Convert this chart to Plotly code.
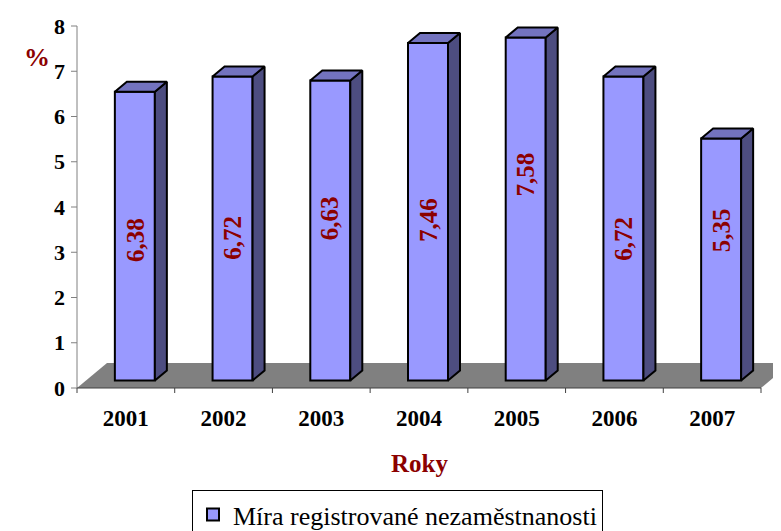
import plotly.graph_objects as go

# ---- data ----
years = ["2001", "2002", "2003", "2004", "2005", "2006", "2007"]
rates = [6.38, 6.72, 6.63, 7.46, 7.58, 6.72, 5.35]
y_ticks = [0, 1, 2, 3, 4, 5, 6, 7, 8]
series_name = "Míra registrované nezaměstnanosti"
x_title = "Roky"
y_title = "%"

# ---- style / geometry (screen-pixel-derived constants) ----
W, H = 781, 531
OFF = 8              # page body margin offset of the plot div
X_PPU = 684 / 7      # pixels per category
Y_PPU = 362 / 8      # pixels per y unit
PLOT_L, PLOT_R, PLOT_T, PLOT_B = 70, 789, 10, 402   # screen pixels
Y0_PX = 388

FLOOR_DX, FLOOR_DY = 30 / X_PPU, 25 / Y_PPU
BAR_OX, BAR_OY = 9 / X_PPU, 7.5 / Y_PPU
BAR_W = 40 / X_PPU
BAR_DX, BAR_DY = 12 / X_PPU, 10 / Y_PPU
label_y = [3.27, 3.31, 3.76, 3.71, 4.71, 3.31, 3.49]

FRONT, TOP, SIDE = "#9999FF", "#7373BF", "#4D4D80"
RED = "#8B0000"
FONT = "Liberation Serif"

x_lo = -0.5 - (77 - PLOT_L) / X_PPU
x_hi = x_lo + (PLOT_R - PLOT_L) / X_PPU
y_lo = -(PLOT_B - Y0_PX) / Y_PPU
y_hi = y_lo + (PLOT_B - PLOT_T) / Y_PPU

n = len(years)
xc = [i + BAR_OX for i in range(n)]

fig = go.Figure()

# front faces
fig.add_trace(go.Bar(
    x=xc, y=rates, base=BAR_OY, width=BAR_W,
    marker=dict(color=FRONT, line=dict(color="black", width=2)),
    name=series_name, showlegend=True,
))

# side and top faces
sx, sy, tx, ty = [], [], [], []
for i, v in enumerate(rates):
    xl = xc[i] - BAR_W / 2
    xr = xc[i] + BAR_W / 2
    y0 = BAR_OY
    y1 = BAR_OY + v
    sx += [xr, xr + BAR_DX, xr + BAR_DX, xr, xr, None]
    sy += [y0, y0 + BAR_DY, y1 + BAR_DY, y1, y0, None]
    tx += [xl, xr, xr + BAR_DX, xl + BAR_DX, xl, None]
    ty += [y1, y1, y1 + BAR_DY, y1 + BAR_DY, y1, None]

fig.add_trace(go.Scatter(x=sx, y=sy, mode="lines", fill="toself", fillcolor=SIDE,
                         line=dict(color="black", width=2), showlegend=False, hoverinfo="skip"))
fig.add_trace(go.Scatter(x=tx, y=ty, mode="lines", fill="toself", fillcolor=TOP,
                         line=dict(color="black", width=2), showlegend=False, hoverinfo="skip"))

# axis lines and ticks
ax_x, ax_y = [-0.5, -0.5, None], [0, y_ticks[-1], None]
for t in y_ticks:
    ax_x += [-0.5 - 6 / X_PPU, -0.5, None]
    ax_y += [t, t, None]
fig.add_trace(go.Scatter(x=ax_x, y=ax_y, mode="lines", line=dict(color="#808080", width=1),
                         showlegend=False, hoverinfo="skip"))
bx, by = [-0.5, n - 0.5, None], [0, 0, None]
for k in range(n + 1):
    bx += [k - 0.5, k - 0.5, None]
    by += [0, -5 / Y_PPU, None]
fig.add_trace(go.Scatter(x=bx, y=by, mode="lines", line=dict(color="#404040", width=1),
                         showlegend=False, hoverinfo="skip"))

# floor
fig.add_shape(type="path", xref="x", yref="y", layer="below",
              path=f"M {-0.5},0 L {n-0.5},0 L {n-0.5+FLOOR_DX},{FLOOR_DY} L {-0.5+FLOOR_DX},{FLOOR_DY} Z",
              fillcolor="#808080", line=dict(width=0))

# data labels
for i, v in enumerate(rates):
    fig.add_annotation(x=xc[i], y=label_y[i], xref="x", yref="y",
                       text=f"{v:.2f}".replace(".", ","), textangle=-90, showarrow=False,
                       font=dict(family=FONT, size=25, color=RED, weight="bold"))

# titles
fig.add_annotation(x=3, xref="x", y=0, yref="paper", yshift=-(463 - PLOT_B), yanchor="middle",
                   text=x_title, showarrow=False,
                   font=dict(family=FONT, size=25, color=RED, weight="bold"))
fig.add_annotation(x=0, xref="paper", xshift=-(PLOT_L - 22), y=(Y0_PX - 57) / Y_PPU, yref="y",
                   text=y_title, showarrow=False,
                   font=dict(family=FONT, size=26, color=RED, weight="bold"))

fig.update_layout(
    width=W, height=H,
    margin=dict(l=PLOT_L - OFF, r=W - (PLOT_R - OFF), t=PLOT_T - OFF, b=H - (PLOT_B - OFF),
                autoexpand=False),
    plot_bgcolor="white", paper_bgcolor="white",
    xaxis=dict(range=[x_lo, x_hi], tickvals=list(range(n)), ticktext=years, ticks="",
               showline=False, showgrid=False, zeroline=False,
               tickfont=dict(family=FONT, size=23, color="black", weight="bold")),
    yaxis=dict(range=[y_lo, y_hi], tickvals=y_ticks, ticks="", showline=False, showgrid=False,
               zeroline=False, ticklabelstandoff=4,
               tickfont=dict(family=FONT, size=22, color="black", weight="bold")),
    legend=dict(orientation="h", x=(192 - PLOT_L) / (PLOT_R - PLOT_L), xanchor="left",
                y=(PLOT_B - 490) / (PLOT_B - PLOT_T), yanchor="top",
                bordercolor="black", borderwidth=1, bgcolor="white",
                font=dict(family=FONT, size=26, color="black")),
    showlegend=True,
)

fig.write_html("out.html")
